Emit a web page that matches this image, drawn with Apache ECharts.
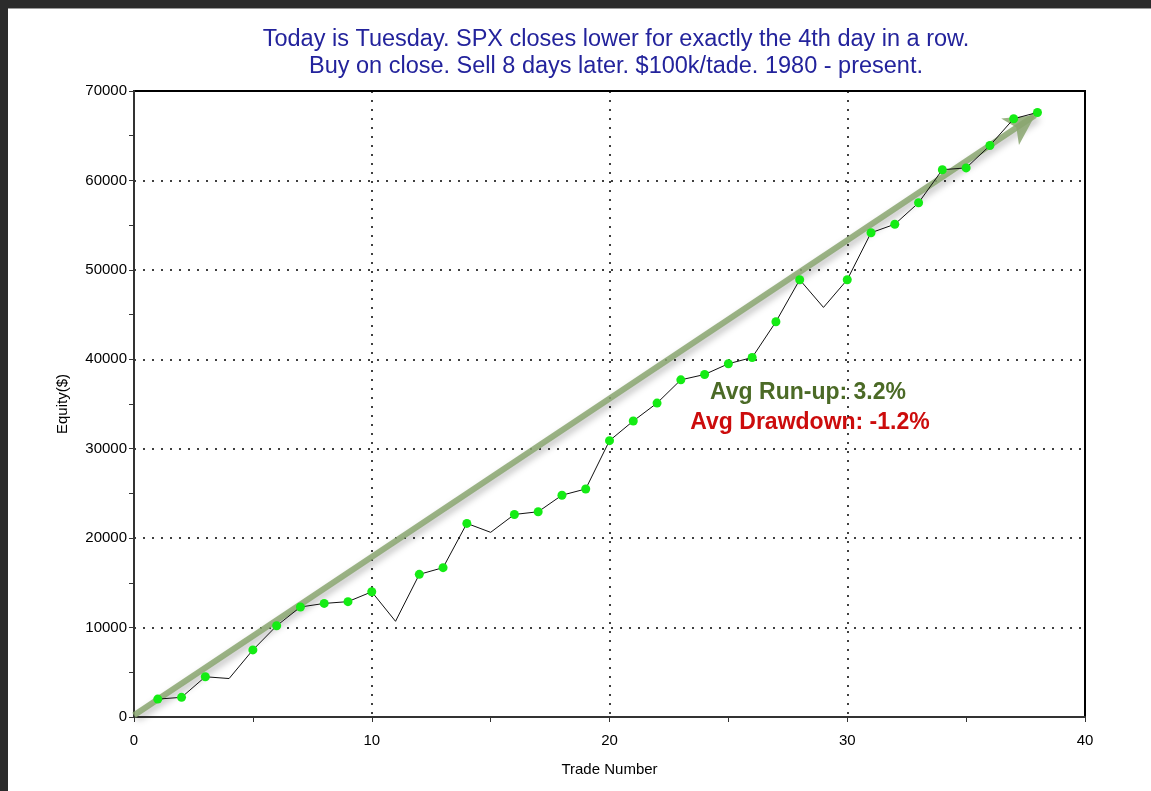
<!DOCTYPE html>
<html lang="en">
  <head>
    <meta charset="UTF-8" />
    <title>SPX equity curve</title>
    <script src="https://cdn.jsdelivr.net/npm/echarts@6/dist/echarts.min.js"></script>
    <style>
      html, body { margin: 0; padding: 0; background: #fff; }
      #main { width: 1151px; height: 791px; }
    </style>
  </head>
  <body>
    <div id="main"></div>
  </body>
  <script>
    // trade number / equity ($)
    const trades = [1, 2, 3, 4, 5, 6, 7, 8, 9, 10, 11, 12, 13, 14, 15, 16, 17, 18, 19,
      20, 21, 22, 23, 24, 25, 26, 27, 28, 29, 30, 31, 32, 33, 34, 35, 36, 37, 38];
    const equity = [2000, 2200, 4500, 4300, 7500, 10200, 12300, 12700, 12900, 14000,
      10700, 15950, 16700, 21650, 20650, 22650, 22950, 24800, 25500, 30900,
      33100, 35100, 37700, 38300, 39500, 40200, 44200, 48900, 45800, 48900,
      54150, 55100, 57500, 61200, 61400, 63900, 66900, 67600];
    // trades drawn without a green dot (losers)
    const unmarked = [4, 11, 15, 29];
    // trend arrow, start and end
    const arrowFrom = [0, 200];
    const arrowTo = [37.9, 67300];

    const seriesData = trades.map(function (t, i) {
      const p = { value: [t, equity[i]] };
      if (unmarked.indexOf(t) >= 0) p.symbol = "none";
      return p;
    });

    const font = "Liberation Sans, Arial";
    var myChart = echarts.init(document.getElementById("main"));
    var option = {
      backgroundColor: "#fff",
      animation: false,
      title: {
        text: "Today is Tuesday. SPX closes lower for exactly the 4th day in a row.\nBuy on close. Sell 8 days later. $100k/tade. 1980 - present.",
        left: 611,
        textAlign: "center",
        top: 21,
        textStyle: {
          fontFamily: font,
          fontSize: 23.5,
          fontWeight: "normal",
          color: "#23239c",
          lineHeight: 27,
        },
      },
      grid: {
        left: 134,
        right: 66,
        top: 91,
        bottom: 74,
        show: true,
        borderColor: "#000",
        borderWidth: 2,
        backgroundColor: "#fff",
      },
      xAxis: {
        type: "value",
        min: 0,
        max: 40,
        interval: 10,
        name: "Trade Number",
        nameLocation: "middle",
        nameGap: 45,
        nameTextStyle: { fontFamily: font, fontSize: 15, color: "#000" },
        axisLine: { lineStyle: { color: "#333", width: 2 } },
        axisTick: { show: true, length: 5, lineStyle: { color: "#333" } },
        minorTick: { show: true, splitNumber: 2, length: 5, lineStyle: { color: "#333" } },
        axisLabel: { margin: 16, fontFamily: font, fontSize: 15, color: "#000" },
        splitLine: { lineStyle: { color: "#000", type: [2, 7], width: 1.5 } },
      },
      yAxis: {
        type: "value",
        min: 0,
        max: 70000,
        interval: 10000,
        name: "Equity($)",
        nameLocation: "middle",
        nameGap: 64,
        nameTextStyle: { fontFamily: font, fontSize: 15, color: "#000" },
        axisLine: { show: true, lineStyle: { color: "#333", width: 2 } },
        axisTick: { show: true, length: 5, lineStyle: { color: "#333" } },
        minorTick: { show: true, splitNumber: 2, length: 5, lineStyle: { color: "#333" } },
        axisLabel: {
          margin: 7,
          fontFamily: font,
          fontSize: 15,
          color: "#000",
          formatter: function (v) { return String(v); },
        },
        splitLine: { lineStyle: { color: "#000", type: [2, 7], width: 1.5 } },
      },
      series: [
        {
          type: "line",
          data: seriesData,
          symbol: "circle",
          symbolSize: 9,
          lineStyle: { color: "#111", width: 1 },
          itemStyle: { color: "#14ec14" },
          z: 3,
          markLine: {
            silent: true,
            symbol: ["none", "arrow"],
            symbolSize: [24, 30],
            label: { show: false },
            lineStyle: {
              color: "rgba(138,166,112,0.85)",
              width: 6,
              type: "solid",
              shadowBlur: 7,
              shadowColor: "rgba(0,0,0,0.3)",
              shadowOffsetX: 3,
              shadowOffsetY: 3,
            },
            data: [[{ coord: arrowFrom }, { coord: arrowTo }]],
            z: 2,
          },
        },
      ],
      graphic: [
        { type: "rect", left: 0, top: 0, shape: { width: 1151, height: 8 }, style: { fill: "#2b2b2b" } },
        { type: "rect", left: 0, top: 8, shape: { width: 1151, height: 1 }, style: { fill: "#9a9a9a" } },
        { type: "rect", left: 0, top: 0, shape: { width: 8, height: 791 }, style: { fill: "#2b2b2b" } },
        {
          type: "text",
          x: 808,
          y: 393,
          style: {
            text: "Avg Run-up: 3.2%",
            font: "bold 23px Liberation Sans, Arial",
            fill: "#4b6a26",
            align: "center",
            verticalAlign: "middle",
          },
        },
        {
          type: "text",
          x: 810,
          y: 423,
          style: {
            text: "Avg Drawdown: -1.2%",
            font: "bold 23px Liberation Sans, Arial",
            fill: "#cc0c0c",
            align: "center",
            verticalAlign: "middle",
          },
        },
      ],
    };
    myChart.setOption(option);
  </script>
</html>
